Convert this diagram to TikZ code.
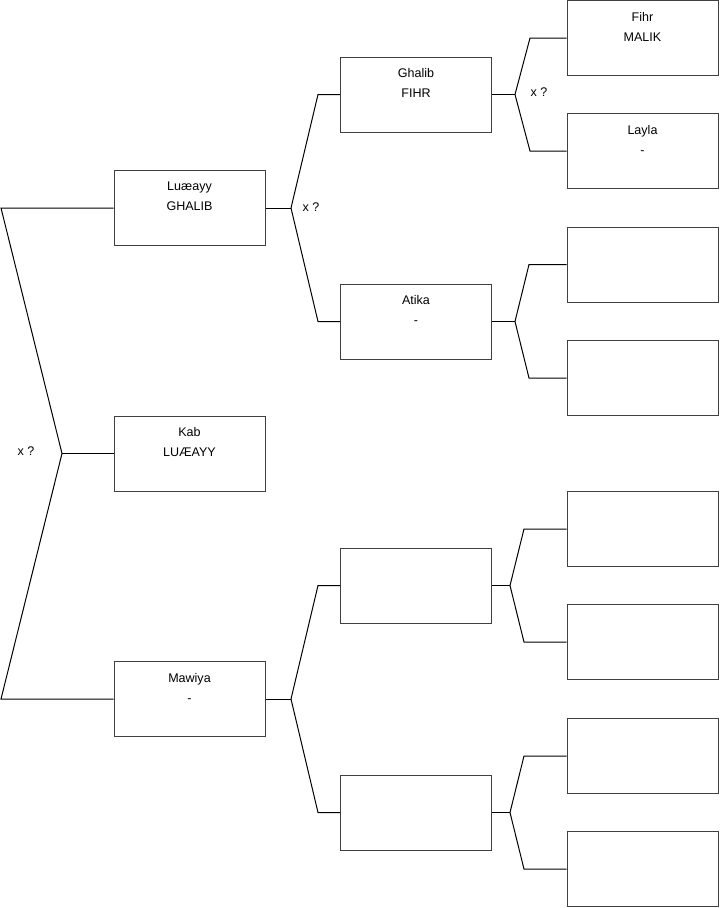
\documentclass[tikz,border=0pt]{standalone}
\usepackage{fontspec}
\setmainfont{Liberation Sans}
\usetikzlibrary{positioning}

\tikzset{
  person/.style={draw=black!75, line width=0.75pt, minimum width=113.25pt,
    minimum height=56.25pt, inner sep=0pt},
  who/.style={anchor=north, align=center, inner sep=0pt,
    font=\fontsize{9.4}{15}\selectfont},
  link/.style={line width=0.75pt},
  guess/.style={font=\fontsize{9.4}{11}\selectfont, inner sep=0pt},
}

\begin{document}
\begin{tikzpicture}[x=0.75pt, y=-0.75pt]
  \useasboundingbox (0,0) rectangle (719,908);

  % generation 1
  \node[person] (luaayy) at (189.5,208) {};
  \node[person] (kab)    at (189.5,453.5) {};
  \node[person] (mawiya) at (189.5,699) {};
  % generation 2
  \node[person] (ghalib) at (416,94.5) {};
  \node[person] (atika)  at (416,321.5) {};
  \node[person] (p3)     at (416,585.5) {};
  \node[person] (p4)     at (416,812.5) {};
  % generation 3
  \node[person] (fihr)  at (642.5,38) {};
  \node[person] (layla) at (642.5,151) {};
  \node[person] (q3)    at (642.5,264.5) {};
  \node[person] (q4)    at (642.5,378) {};
  \node[person] (q5)    at (642.5,529) {};
  \node[person] (q6)    at (642.5,642) {};
  \node[person] (q7)    at (642.5,756) {};
  \node[person] (q8)    at (642.5,869) {};

  % names
  \node[who, below=8.8pt of luaayy.north] (luaayy-t) {Luæayy\\GHALIB};
  \node[who, below=8.8pt of kab.north]    (kab-t)    {Kab\\LUÆAYY};
  \node[who, below=8.8pt of mawiya.north] (mawiya-t) {Mawiya\\-};
  \node[who, below=8.8pt of ghalib.north] (ghalib-t) {Ghalib\\FIHR};
  \node[who, below=8.8pt of atika.north]  (atika-t)  {Atika\\-};
  \node[who, below=8.8pt of fihr.north]   (fihr-t)   {Fihr\\MALIK};
  \node[who, below=8.8pt of layla.north]  (layla-t)  {Layla\\-};

  % forks
  \coordinate (r1) at (1,208);
  \coordinate (j1) at (62,453.5);
  \coordinate (r2) at (1,699);
  \draw[link] (luaayy.west) -- (r1) -- (j1) -- (r2) -- (mawiya.west);
  \draw[link] (j1) -- (kab.west);
  \node[guess] (x1) at (26,451) {x ?};

  \coordinate (j2) at (291,208);
  \coordinate (a2) at (318,94.5);
  \coordinate (b2) at (318,321.5);
  \draw[link] (luaayy.east) -- (j2);
  \draw[link] (j2) -- (a2) -- (ghalib.west);
  \draw[link] (j2) -- (b2) -- (atika.west);
  \node[guess] (x2) at (311,207) {x ?};

  \coordinate (j3) at (291,699);
  \coordinate (a3) at (318,585.5);
  \coordinate (b3) at (318,812.5);
  \draw[link] (mawiya.east) -- (j3);
  \draw[link] (j3) -- (a3) -- (p3.west);
  \draw[link] (j3) -- (b3) -- (p4.west);

  \coordinate (j4) at (515,94.5);
  \coordinate (a4) at (530,38);
  \coordinate (b4) at (530,151);
  \draw[link] (ghalib.east) -- (j4);
  \draw[link] (j4) -- (a4) -- (fihr.west);
  \draw[link] (j4) -- (b4) -- (layla.west);
  \node[guess] (x4) at (539,92) {x ?};

  \coordinate (j5) at (515,321.5);
  \coordinate (a5) at (529,264.5);
  \coordinate (b5) at (529,378);
  \draw[link] (atika.east) -- (j5);
  \draw[link] (j5) -- (a5) -- (q3.west);
  \draw[link] (j5) -- (b5) -- (q4.west);

  \coordinate (j6) at (510,585.5);
  \coordinate (a6) at (524,529);
  \coordinate (b6) at (524,642);
  \draw[link] (p3.east) -- (j6);
  \draw[link] (j6) -- (a6) -- (q5.west);
  \draw[link] (j6) -- (b6) -- (q6.west);

  \coordinate (j7) at (510,812.5);
  \coordinate (a7) at (524,756);
  \coordinate (b7) at (524,869);
  \draw[link] (p4.east) -- (j7);
  \draw[link] (j7) -- (a7) -- (q7.west);
  \draw[link] (j7) -- (b7) -- (q8.west);
\end{tikzpicture}
\end{document}
